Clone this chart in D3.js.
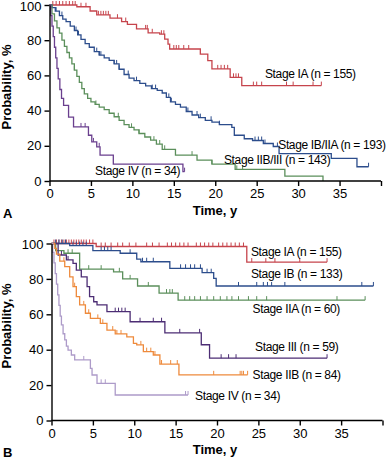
<!DOCTYPE html>
<html>
<head>
<meta charset="utf-8">
<script src="https://cdn.jsdelivr.net/npm/d3@7"></script>
<style>
  body { margin: 0; background: #fff; }
  svg text { font-family: "Liberation Sans", Arial, Helvetica, sans-serif; }
  .tick text { font-size: 13px; fill: #000; }
  .axisTitle { font-size: 13px; font-weight: bold; }
  .curveLabel { font-size: 12px; letter-spacing: -0.35px; fill: #000; }
</style>
</head>
<body>
<div id="chart"></div>
<script>
// Tick values
var xTicks = [0, 5, 10, 15, 20, 25, 30, 35, 40];
var yTicks = [0, 20, 40, 60, 80, 100];

// ---- Panel A data (step times in years, survival in %) ----
var aIaTimes = [0, 3.3, 4.9, 5.7, 7.3, 8.7, 9.4, 10.5, 11.9, 13.3, 13.9, 14.3, 14.5, 18.2, 19.1, 19.6, 21.8, 23.2];
var aIaSurv = [100, 99, 96.6, 94.4, 92.5, 90.6, 89, 86.4, 84.2, 83.4, 80.6, 77.8, 75, 72.1, 68.4, 63.7, 58.9, 54.2];
var aIaCensor = [0.4, 0.8, 1.2, 1.6, 2.0, 2.4, 2.8, 3.1, 3.8, 4.4, 5.9, 6.2, 6.5, 6.8, 7.1, 8.2, 9.2, 11.6, 11.8, 12.4, 13.5, 13.8, 15.0, 15.3, 15.6, 16.2, 16.8, 20.3, 20.7, 21.1, 21.5, 22.2, 22.5, 22.8, 24.6, 25.0, 25.6, 28.6, 29.4, 31.8, 32.8];
var aIaEnd = 32.8;

var aIbTimes = [0, 0.3, 0.7, 1.2, 1.6, 2.0, 2.5, 3.0, 3.4, 3.8, 4.3, 4.8, 5.4, 6.0, 6.6, 7.2, 7.8, 8.4, 9.0, 9.6, 10.2, 10.9, 11.6, 12.3, 13.0, 13.6, 14.1, 14.6, 15.2, 15.8, 16.5, 17.2, 18.0, 18.8, 19.6, 20.5, 22.0, 22.3, 23.5, 24.5, 25.8, 27.0, 27.7, 34.0, 37.1];
var aIbSurv = [100, 98.5, 96.5, 94, 92, 90.5, 88, 85.5, 83, 80.5, 78, 76, 73.5, 71.5, 70, 68.5, 66.5, 63.5, 60.5, 58.5, 57, 55.5, 54, 52.5, 51.5, 50, 47.5, 45, 43.5, 42, 39.5, 37.5, 36, 34.5, 33.5, 32, 30.5, 26, 24, 23, 21.3, 19.6, 15.6, 12.8, 8.1];
var aIbCensor = [0.8, 1.2, 1.5, 3.2, 3.5, 5.7, 6.0, 6.2, 7.8, 8.1, 8.4, 9.5, 10.5, 12.4, 12.8, 14.4, 14.7, 16.7, 17.8, 18.2, 19.5, 20.5, 24.8, 25.2, 25.6, 26.0, 27.5, 38.5];
var aIbEnd = 38.5;

var aIIbTimes = [0, 0.3, 0.6, 0.9, 1.2, 1.5, 1.8, 2.1, 2.4, 2.7, 3.0, 3.3, 3.6, 3.9, 4.2, 4.6, 5.0, 5.5, 6.0, 6.6, 7.2, 7.8, 8.4, 9.0, 9.6, 10.2, 10.8, 11.5, 12.2, 12.9, 13.6, 15.2, 17.8, 19.6, 22.4, 28.4, 33.0];
var aIIbSurv = [100, 95, 91, 87, 84, 80, 76.5, 73, 70, 66.5, 63, 59.5, 56, 52.5, 49.5, 47, 45, 43.5, 42, 40.5, 38.5, 36.5, 34.5, 32, 30.5, 29, 27, 25, 23.2, 21, 18, 14.7, 11.9, 9.6, 6.6, 2.8, 0];
var aIIbCensor = [3.0, 5.6, 8.3, 9.9, 10.8, 12.6, 13.3, 13.9, 17.2, 19.6, 22.6, 23.3];
var aIIbEnd = 33.0;

var aIvTimes = [0, 0.15, 0.3, 0.45, 0.6, 0.75, 0.9, 1.05, 1.25, 1.45, 1.7, 2.3, 2.9, 4.7, 5.1, 5.7, 6.1, 7.7, 16.1];
var aIvSurv = [100, 94, 88, 82, 76, 70, 64, 58, 52, 47, 43, 36.3, 30.7, 26, 22.2, 19.4, 14.7, 9.6, 5.3];
var aIvCensor = [3.8, 4.3, 5.3, 6.0, 16.3];
var aIvEnd = 16.3;

// ---- Panel B data ----
var bIaTimes = [0, 5.4, 23.6];
var bIaSurv = [100, 98.3, 89.5];
var bIaCensor = [0.3, 0.6, 0.9, 1.2, 1.5, 1.8, 2.1, 2.4, 2.7, 3.0, 3.3, 3.6, 3.9, 4.2, 4.6, 5.0, 6.0, 6.5, 7.2, 8.0, 8.6, 9.4, 10.2, 11.5, 12.2, 13.0, 14.0, 14.5, 15.0, 15.5, 16.0, 16.5, 17.5, 18.0, 18.5, 19.0, 19.5, 20.2, 20.7, 21.2, 21.7, 22.2, 22.7, 23.2, 24.2, 25.9, 27.0, 30.0, 33.3];
var bIaEnd = 33.3;

var bIbTimes = [0, 2.2, 5.0, 8.3, 10.3, 10.8, 14.3, 18.2, 19.6, 19.9];
var bIbSurv = [100, 98.8, 96, 94.5, 91.2, 89.7, 86, 83.5, 80.3, 76];
var bIbCensor = [0.5, 0.9, 1.3, 1.7, 2.6, 3.0, 3.4, 3.8, 4.2, 6.0, 6.4, 6.8, 7.2, 9.5, 11.0, 11.5, 12.3, 15.6, 16.2, 16.8, 17.3, 18.0, 18.8, 19.3, 22.6, 24.8, 25.6, 26.1, 26.6, 28.2, 37.5, 38.9];
var bIbEnd = 38.9;

var bIIaTimes = [0, 0.5, 1.5, 3.4, 7.5, 8.6, 10.4, 13.0, 15.3];
var bIIaSurv = [100, 96, 94.5, 85.5, 84, 80, 76, 72, 68];
var bIIaCensor = [2.0, 2.5, 4.5, 6.0, 8.2, 9.5, 11.7, 13.9, 14.3, 14.6, 16.1, 16.7, 17.3, 18.0, 18.8, 19.6, 20.4, 21.2, 21.8, 22.6, 23.8, 24.8, 26.0, 34.5, 37.9];
var bIIaEnd = 37.9;

var bIIITimes = [0, 0.8, 1.8, 2.6, 3.0, 3.6, 4.3, 4.6, 5.1, 5.5, 6.7, 9.5, 13.7, 18.1, 19.1];
var bIIISurv = [100, 93.5, 90.7, 88.8, 85, 81.2, 75.6, 70, 67.1, 65.3, 61.5, 55.8, 49.5, 42.8, 35.2];
var bIIICensor = [1.2, 2.0, 7.7, 8.1, 8.5, 8.9, 10.7, 12.3, 13.3, 15.5, 17.9, 20.5, 21.4, 22.3, 33.3];
var bIIIEnd = 33.3;

var bIIbTimes = [0, 0.4, 0.6, 1.0, 1.6, 2.2, 2.6, 3.0, 3.4, 4.1, 4.7, 5.9, 6.7, 7.7, 9.1, 9.9, 10.3, 11.1, 12.3, 13.1, 15.4];
var bIIbSurv = [100, 97.3, 94, 90, 86.9, 81.2, 75.6, 70, 65.3, 60.6, 57.7, 54.9, 51.1, 48.9, 47.3, 43.6, 42.7, 38.9, 37, 31.9, 25.8];
var bIIbCensor = [1.5, 2.8, 3.9, 4.5, 5.6, 6.2, 7.4, 7.9, 8.4, 10.8, 11.5, 12.0, 12.5, 13.3, 14.4, 15.2, 19.6, 22.8, 23.0, 23.2, 23.7];
var bIIbEnd = 23.7;

var bIvTimes = [0, 0.15, 0.3, 0.45, 0.6, 0.75, 0.9, 1.05, 1.2, 1.4, 1.6, 1.8, 2.0, 2.4, 2.8, 4.7, 4.9, 5.5, 7.7];
var bIvSurv = [100, 95, 89, 83, 77, 71, 65, 59, 54, 49, 45.5, 42, 39.8, 37, 34.2, 29.5, 25.7, 21, 14.4];
var bIvCensor = [3.9, 6.0, 6.5, 16.2, 16.5];
var bIvEnd = 16.5;

var svg = d3.select("#chart")
  .append("svg")
  .attr("width", 387)
  .attr("height", 462);

// Build one curve description
function makeCurve(times, surv, censor, end, color, label, lx, ly) {
  return { times: times, surv: surv, censor: censor, end: end, color: color, label: label, lx: lx, ly: ly };
}

// survival value at time t from step function
function survAt(c, t) {
  var v = c.surv[0];
  for (var i = 0; i < c.times.length; i++) {
    if (c.times[i] <= t) v = c.surv[i];
  }
  return v;
}

var panelA = {
  box: { left: 49.5, right: 381, top: 5, bottom: 181 },
  letter: "A", titleY: 215, letterY: 218, yTitleY: 87,
  curves: [
    makeCurve(aIaTimes, aIaSurv, aIaCensor, aIaEnd, "#c6444c", "Stage IA (n = 155)", 26.0, 58.6),
    makeCurve(aIbTimes, aIbSurv, aIbCensor, aIbEnd, "#2c4d8c", "Stage IB/IIA (n = 193)", 27.6, 18.1),
    makeCurve(aIIbTimes, aIIbSurv, aIIbCensor, aIIbEnd, "#5b8f5b", "Stage IIB/III (n = 143)", 21.05, 9.4),
    makeCurve(aIvTimes, aIvSurv, aIvCensor, aIvEnd, "#6a3f8e", "Stage IV (n = 34)", 5.5, 3.4)
  ]
};

var panelB = {
  box: { left: 51.5, right: 382.5, top: 243.5, bottom: 420.5 },
  letter: "B", titleY: 454, letterY: 457, yTitleY: 326,
  curves: [
    makeCurve(bIaTimes, bIaSurv, bIaCensor, bIaEnd, "#c6444c", "Stage IA (n = 155)", 24.1, 92.9),
    makeCurve(bIbTimes, bIbSurv, bIbCensor, bIbEnd, "#2c4d8c", "Stage IB (n = 133)", 24.1, 80.5),
    makeCurve(bIIaTimes, bIIaSurv, bIIaCensor, bIIaEnd, "#5b8f5b", "Stage IIA (n = 60)", 24.3, 60.7),
    makeCurve(bIIITimes, bIIISurv, bIIICensor, bIIIEnd, "#4c2d74", "Stage III (n = 59)", 24.6, 39.1),
    makeCurve(bIIbTimes, bIIbSurv, bIIbCensor, bIIbEnd, "#ee8a3c", "Stage IIB (n = 84)", 24.3, 23.6),
    makeCurve(bIvTimes, bIvSurv, bIvCensor, bIvEnd, "#ad9bc9", "Stage IV (n = 34)", 17.35, 11.75)
  ]
};

function drawPanel(panel) {
  var b = panel.box;
  var x = d3.scaleLinear().domain([0, 40]).range([b.left, b.right]);
  var y = d3.scaleLinear().domain([0, 100]).range([b.bottom, b.top]);

  var g = svg.append("g");

  // curves
  var line = d3.line()
    .x(d => x(d[0]))
    .y(d => y(d[1]))
    .curve(d3.curveStepAfter);

  panel.curves.forEach(function(c) {
    var pts = c.times.map((t, i) => [t, c.surv[i]]);
    pts.push([c.end, c.surv[c.surv.length - 1]]);

    g.append("path")
      .attr("d", line(pts))
      .attr("fill", "none")
      .attr("stroke", c.color)
      .attr("stroke-width", 1.3);

    // censor marks
    g.selectAll(null)
      .data(c.censor)
      .enter()
      .append("line")
      .attr("x1", d => x(d))
      .attr("x2", d => x(d))
      .attr("y1", d => y(survAt(c, d)))
      .attr("y2", d => y(survAt(c, d)) - 4)
      .attr("stroke", c.color)
      .attr("stroke-width", 1);

    g.append("text")
      .attr("class", "curveLabel")
      .attr("x", x(c.lx))
      .attr("y", y(c.ly))
      .text(c.label);
  });

  // axes
  var bottomAxis = d3.axisBottom(x)
    .tickValues(xTicks)
    .tickSizeInner(5)
    .tickSizeOuter(0)
    .tickPadding(3)
    .tickFormat(d => d === 40 ? "" : d);

  var leftAxis = d3.axisLeft(y)
    .tickValues(yTicks)
    .tickSizeInner(5)
    .tickSizeOuter(0)
    .tickPadding(3);

  var xAxis = g.append("g")
    .attr("transform", `translate(0, ${b.bottom})`)
    .call(bottomAxis);

  var yAxis = g.append("g")
    .attr("transform", `translate(${b.left}, 0)`)
    .call(leftAxis);

  [xAxis, yAxis].forEach(function(a) {
    a.selectAll("path, line").attr("stroke", "#000").attr("stroke-width", 1.4);
    a.selectAll("text").attr("font-family", null).attr("font-size", null);
  });
  xAxis.select(".domain").attr("d", `M${b.left},0H${b.right}`);

  // keep the top "100" label inside the picture
  yAxis.selectAll(".tick text")
    .filter(d => d === 100)
    .attr("dy", "0.4em");

  // titles
  g.append("text")
    .attr("class", "axisTitle")
    .attr("x", 215)
    .attr("y", panel.titleY)
    .attr("text-anchor", "middle")
    .text("Time, y");

  g.append("text")
    .attr("class", "axisTitle")
    .attr("x", 3)
    .attr("y", panel.letterY)
    .text(panel.letter);

  g.append("text")
    .attr("class", "axisTitle")
    .attr("transform", `translate(11, ${panel.yTitleY}) rotate(-90)`)
    .attr("text-anchor", "middle")
    .text("Probability, %");
}

drawPanel(panelA);
drawPanel(panelB);
</script>
</body>
</html>
